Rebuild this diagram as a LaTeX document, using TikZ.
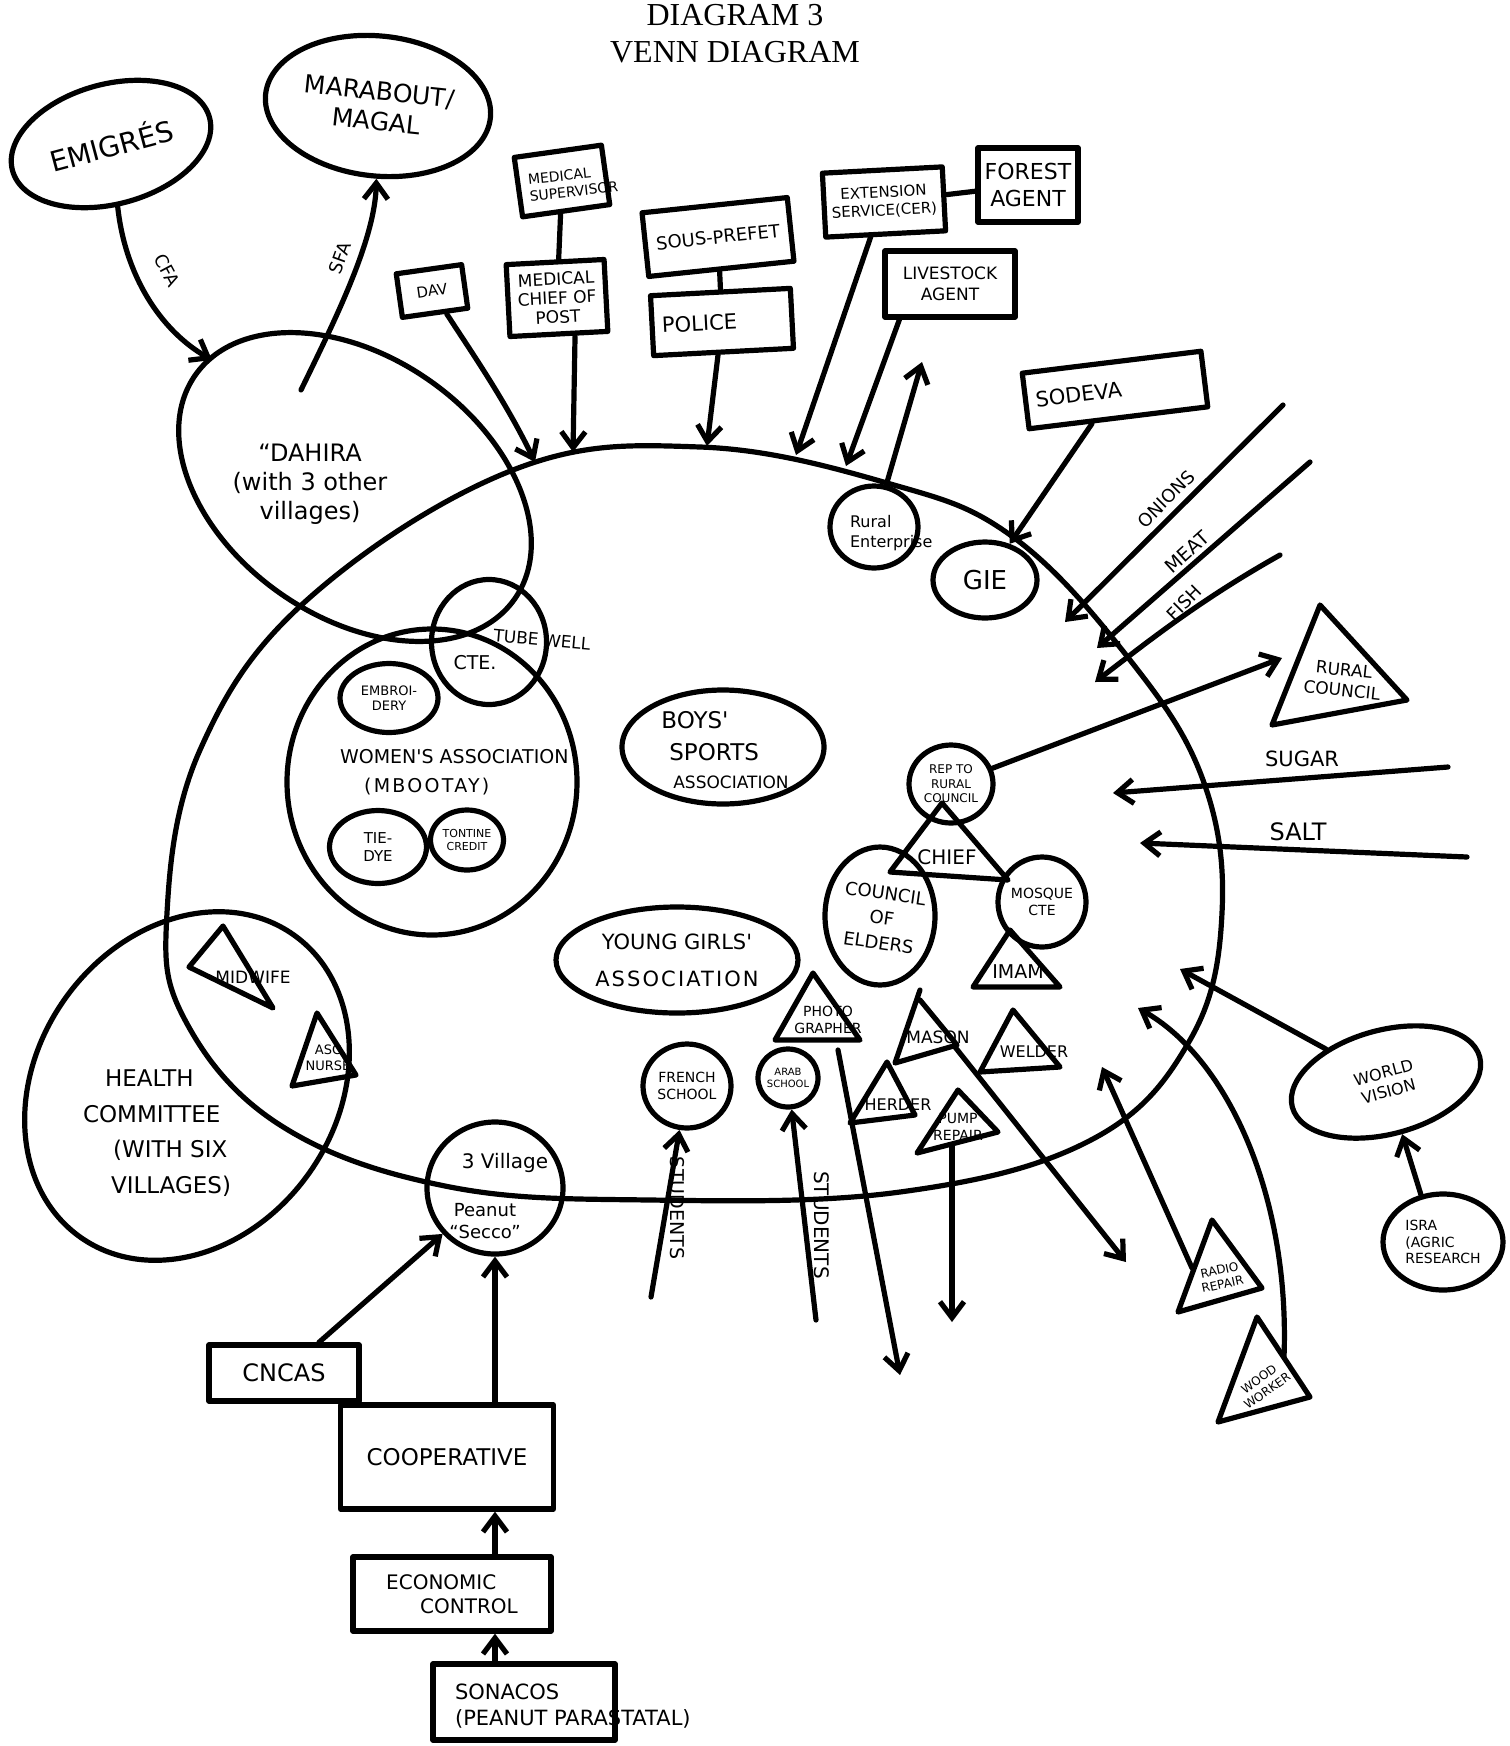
\documentclass[tikz,border=0pt]{standalone}
\usepackage{fontspec}
\setmainfont{Liberation Serif}
\newfontfamily\hand{DejaVu Sans}
\usetikzlibrary{arrows.meta,shapes.geometric}
\newcommand\fs[1]{\hand\fontsize{#1}{\fpeval{#1*1.2}}\selectfont}
\begin{document}
\begin{tikzpicture}[x=0.5pt,y=-0.5pt,line join=round,line cap=round,>={Straight Barb[length=8pt,width=12pt]},
	ln/.style={line width=2.6pt},
	blob/.style={ln,draw,ellipse,inner sep=0pt,align=center},
	tbox/.style={ln,draw,rectangle,inner sep=1.5pt,align=center},
	sz/.style 2 args={minimum width=#1pt,minimum height=#2pt},
	lbl/.style={font=\fs{#1},align=center}]
	\useasboundingbox (0,0) rectangle (1510,1746);
	\node[font=\fontsize{16}{18.5}\selectfont,align=center] (title) at (735,34) {DIAGRAM 3\\VENN DIAGRAM};
	\draw[ln] plot[smooth cycle,tension=0.65] coordinates {(167,913) (200,750) (307,600) (513,470) (700,447) (887,483) (1013,537) (1130,660) (1203,780) (1222,913) (1190,1040) (1091,1140) (900,1192) (650,1200) (445,1186) (280,1125) (185,1020)};
	\coordinate (v-dav) at (535,462);
	\coordinate (v-med) at (573,452);
	\coordinate (v-pol) at (707,446);
	\coordinate (v-ext) at (796,455);
	\coordinate (v-live) at (846,466);
	\coordinate (v-on) at (1065,622);
	\coordinate (v-meat) at (1097,648);
	\coordinate (v-fish) at (1095,682);
	\coordinate (v-sugar) at (1113,793);
	\coordinate (v-salt) at (1140,843);
	\coordinate (v-wv) at (1180,969);
	\coordinate (v-wood) at (1138,1008);
	\coordinate (v-radio) at (1102,1067);
	
	\node[blob,sz={102}{60},rotate=15,lbl=14] (emig) at (111,144) {EMIGRÉS};
	\node[blob,sz={113}{70},rotate=-6,lbl=12.5] (marabout) at (378,106) {MARABOUT/\\MAGAL};
	\node[blob,sz={195}{130},rotate=-35] (dahira) at (355,487) {};
	\node[lbl=12] (dahira-t) at (310,484) {“DAHIRA\\(with 3 other\\villages)};
	\coordinate (d-cfa) at (212,360);
	\coordinate (d-sfa) at (301,390);
	\draw[ln,->] (emig) .. controls (125,275) and (160,330) .. (d-cfa);
	\draw[ln,->] (d-sfa) .. controls (335,320) and (375,240) .. (marabout);
	\node[lbl=9,rotate=-62] (cfa) at (167,270) {CFA};
	\node[lbl=9,rotate=70] (sfa) at (340,258) {SFA};
	
	\node[tbox,sz={33}{22},rotate=8,lbl=7.5] (dav) at (432,291) {DAV};
	\draw[ln,->] (dav) .. controls (470,350) and (505,400) .. (v-dav);
	\node[tbox,sz={44}{30},rotate=8] (medsup) at (562,181) {};
	\node[lbl=7,align=left,rotate=6] (medsup-t) at (573,183) {MEDICAL\\SUPERVISOR};
	\node[tbox,sz={49}{36},rotate=3,font=\hand\fontsize{8.5}{9.5}\selectfont] (medchief) at (557,298) {MEDICAL\\CHIEF OF\\POST};
	\draw[ln] (medsup) -- (medchief);
	\draw[ln,->] ([xshift=8pt]medchief.south) -- (v-med);
	\node[tbox,sz={73}{32},rotate=6,lbl=9] (sous) at (718,237) {SOUS-PREFET};
	\node[tbox,sz={70}{30},rotate=3,lbl=10.5,text width=60pt,align=left] (police) at (722,322) {POLICE};
	\draw[ln] (sous) -- (police);
	\draw[ln,->] (police) -- (v-pol);
	\node[tbox,sz={60}{32},rotate=3,lbl=7.5] (ext) at (884,202) {EXTENSION\\SERVICE(CER)};
	\node[tbox,sz={50}{37},lbl=11] (forest) at (1028,185) {FOREST\\AGENT};
	\draw[ln] (ext) -- (forest);
	\draw[ln,->] ([xshift=-7.5pt]ext.south) -- (v-ext);
	\node[tbox,sz={65}{33},lbl=8.5] (live) at (950,284) {LIVESTOCK\\AGENT};
	\draw[ln,->] ([xshift=8.5pt]live.south west) -- (v-live);
	\node[tbox,sz={90}{28},rotate=7,lbl=10.5,text width=80pt,align=left] (sodeva) at (1115,390) {SODEVA};
	
	\node[blob,sz={44}{41}] (rural) at (874,527) {};
	\node[lbl=8,align=left,anchor=west] (rural-t) at (843,533) {Rural\\Enterprise};
	\coordinate (re-up) at (922,362);
	\draw[ln,->] (rural) -- (re-up);
	\node[blob,sz={52}{38},lbl=13] (gie) at (985,580) {GIE};
	\draw[ln,->] (sodeva) -- (gie);
	
	\coordinate (on-a) at (1283,405);
	\coordinate (meat-a) at (1310,462);
	\coordinate (fish-a) at (1280,555);
	\draw[ln,->] (on-a) -- (v-on);
	\draw[ln,->] (meat-a) -- (v-meat);
	\draw[ln,->] (fish-a) .. controls (1200,600) and (1150,640) .. (v-fish);
	\node[lbl=9,rotate=45] (onions) at (1166,499) {ONIONS};
	\node[lbl=9.5,rotate=42] (meat) at (1187,552) {MEAT};
	\node[lbl=9,rotate=45] (fish) at (1184,603) {FISH};
	
	\coordinate (rc-a) at (1320,605);
	\coordinate (rc-b) at (1407,700);
	\coordinate (rc-c) at (1272,725);
	\draw[ln] (rc-a) -- (rc-b) -- (rc-c) -- cycle;
	\node[lbl=8.5,rotate=-6] (rcouncil) at (1343,680) {RURAL\\COUNCIL};
	\coordinate (rc-in) at (1282,658);
	\node[blob,sz={42}{39},lbl=6] (rep) at (951,784) {REP TO\\RURAL\\COUNCIL};
	\draw[ln,->] (rep) -- (rc-in);
	\coordinate (sugar-a) at (1448,767);
	\coordinate (salt-a) at (1467,857);
	\draw[ln,->] (sugar-a) -- (v-sugar);
	\draw[ln,->] (salt-a) -- (v-salt);
	\node[lbl=10.5] (sugar) at (1302,759) {SUGAR};
	\node[lbl=12] (salt) at (1298,832) {SALT};
	
	\draw[ln] (942,803) -- (1008,880) -- (890,872) -- cycle;
	\node[lbl=10] (chief) at (947,857) {CHIEF};
	\node[blob,sz={55}{69}] (elders) at (880,916) {};
	\node[font=\hand\fontsize{9}{12.5}\selectfont,align=center,rotate=-8] (elders-t) at (882,918) {COUNCIL\\OF\\ELDERS};
	\node[blob,sz={44}{45},lbl=7] (mosque) at (1042,902) {MOSQUE\\CTE};
	\draw[ln] (1010,930) -- (1060,987) -- (973,987) -- cycle;
	\node[lbl=9.5] (imam) at (1018,972) {IMAM};
	
	\coordinate (ph-b) at (838,1050);
	\coordinate (ph-out) at (900,1375);
	\draw[ln] (813,973) -- (860,1040) -- (775,1040) -- cycle;
	\node[lbl=7] (photo) at (828,1020) {PHOTO\\GRAPHER};
	\draw[ln,->] (ph-b) -- (ph-out);
	\coordinate (ma-r) at (955,1047);
	\coordinate (ma-out) at (1126,1262);
	\draw[ln] (920,990) -- (895,1063) -- (957,1045) -- (920,1000);
	\node[lbl=8.5] (mason) at (938,1037) {MASON};
	\draw[ln,->] (ma-r) -- (ma-out);
	\draw[ln] (887,1062) -- (915,1115) -- (850,1123) -- cycle;
	\node[lbl=8] (herder) at (898,1105) {HERDER};
	\draw[ln] (1013,1010) -- (1060,1067) -- (980,1072) -- cycle;
	\node[lbl=8] (welder) at (1034,1052) {WELDER};
	\coordinate (pu-b) at (952,1146);
	\coordinate (pu-out) at (952,1322);
	\draw[ln] (958,1090) -- (998,1132) -- (917,1153) -- cycle;
	\node[lbl=7] (pump) at (958,1127) {PUMP\\REPAIR};
	\draw[ln,->] (pu-b) -- (pu-out);
	\coordinate (ra-l) at (1192,1268);
	\draw[ln] (1212,1220) -- (1262,1288) -- (1178,1312) -- cycle;
	\node[lbl=6,rotate=12] (radio) at (1221,1277) {RADIO\\REPAIR};
	\draw[ln,->] (ra-l) -- (v-radio);
	\coordinate (wo-t) at (1284,1357);
	\draw[ln] (1257,1317) -- (1310,1397) -- (1218,1422) -- cycle;
	\node[lbl=6,rotate=35] (wood) at (1263,1385) {WOOD\\WORKER};
	\draw[ln,->] (wo-t) .. controls (1290,1200) and (1230,1060) .. (v-wood);
	
	\node[blob,sz={97}{52},rotate=15,lbl=8] (wv) at (1386,1082) {WORLD\\VISION};
	\draw[ln,->] (wv) -- (v-wv);
	\node[blob,sz={60}{48},lbl=7,align=left] (isra) at (1443,1242) {ISRA\\(AGRIC\\RESEARCH};
	\draw[ln,->] (isra.115) -- (wv);
	
	\node[blob,sz={101}{57}] (boys) at (723,747) {};
	\node[lbl=11.5,align=left] (boys-t) at (725,750) {BOYS'\\[2pt]\hspace*{4pt}SPORTS\\{\fs{8.5}\hspace*{6pt}ASSOCIATION}};
	\node[blob,sz={121}{53}] (girls) at (677,960) {};
	\node[lbl=10.5] (girls-t) at (677,960) {YOUNG GIRLS'\\[6pt]{\addfontfeature{LetterSpace=10}ASSOCIATION}};
	\node[blob,sz={44}{42},lbl=7] (french) at (687,1086) {FRENCH\\SCHOOL};
	\node[blob,sz={30}{29},lbl=5] (arab) at (788,1078) {ARAB\\SCHOOL};
	\coordinate (st-a) at (651,1297);
	\coordinate (st-b) at (816,1320);
	\draw[ln,->] (st-a) -- (french);
	\draw[ln,->] (st-b) -- (arab);
	\node[lbl=9.5,rotate=-90] (stud-a) at (677,1208) {STUDENTS};
	\node[lbl=10,rotate=-90] (stud-b) at (822,1225) {STUDENTS};
	
	\node[blob,sz={145}{153}] (women) at (432,782) {};
	\node[lbl=9.5,align=left,anchor=west] (women-t) at (333,772) {WOMEN'S ASSOCIATION\\[3pt]\hspace*{12pt}{\addfontfeature{LetterSpace=12}(MBOOTAY)}};
	\node[blob,sz={49}{34.5},lbl=6.5] (embroidery) at (389,698) {EMBROI-\\DERY};
	\node[blob,sz={48.5}{36.5},lbl=7.5] (tiedye) at (378,847) {TIE-\\DYE};
	\node[blob,sz={36.5}{30},lbl=5.5] (tontine) at (467,840) {TONTINE\\CREDIT};
	\node[blob,sz={57.5}{62.5}] (tubewell) at (489,642) {};
	\node[lbl=9.5] (cte) at (475,663) {CTE.};
	\node[lbl=8.5,rotate=-5] (tube-t) at (542,640) {TUBE WELL};
	
	\node[blob,sz={185}{150},rotate=55] (health) at (187,1086) {};
	\node[lbl=11.5,align=left,anchor=west] (health-t) at (76,1133) {\hspace*{11pt}HEALTH\\[4pt]COMMITTEE\\[4pt]\hspace*{15pt}(WITH SIX\\[4pt]\hspace*{14pt}VILLAGES)};
	\draw[ln] (223,926) -- (273,1008) -- (189,967) -- cycle;
	\node[lbl=8.5] (midwife) at (253,977) {MIDWIFE};
	\draw[ln] (317,1013) -- (356,1075) -- (292,1086) -- cycle;
	\node[lbl=6.5] (nurse) at (328,1058) {ASC\\NURSE};
	
	\node[blob,sz={68}{66}] (village) at (495,1188) {};
	\node[lbl=10] (village-t) at (505,1163) {3 Village};
	\node[lbl=9] (secco-t) at (485,1221) {Peanut\\“Secco”};
	\node[tbox,sz={75}{28},lbl=12] (cncas) at (284,1373) {CNCAS};
	\draw[ln,->] (cncas) -- (village);
	\node[tbox,sz={106.5}{52},lbl=11.5] (coop) at (447,1457) {COOPERATIVE};
	\draw[ln,->] (coop.north -| village.south) -- (village.south);
	\node[tbox,sz={99}{37},lbl=10,align=left] (econ) at (452,1594) {ECONOMIC\\\hspace*{17pt}CONTROL};
	\draw[ln,->] (econ.north -| village.south) -- (coop.south -| village.south);
	\node[tbox,sz={91}{38}] (sonacos) at (524,1702) {};
	\node[lbl=10.5,align=left,anchor=west] (sonacos-t) at (448,1706) {SONACOS\\(PEANUT PARASTATAL)};
	\draw[ln,->] (sonacos.north -| village.south) -- (econ.south -| village.south);
\end{tikzpicture}
\end{document}
